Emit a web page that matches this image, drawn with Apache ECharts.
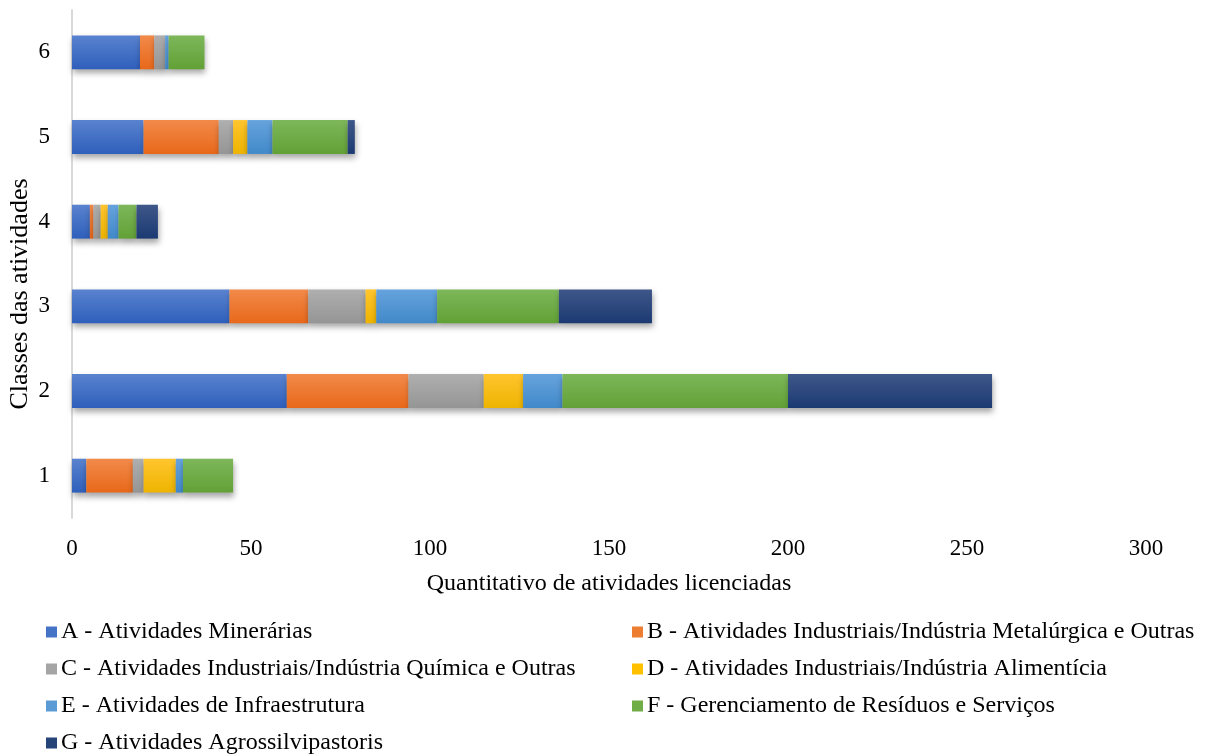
<!DOCTYPE html>
<html>
<head>
<meta charset="utf-8">
<script src="https://cdn.jsdelivr.net/npm/echarts@6/dist/echarts.min.js"></script>
<style>
  html, body { margin: 0; padding: 0; background: #fff; }
  #chart { width: 1210px; height: 756px; }
</style>
</head>
<body>
<div id="chart"></div>
<script>
// Activity classes (y axis, bottom to top)
const classes = ['1', '2', '3', '4', '5', '6'];

// Licensed activities per class, one array per activity group
const seriesNames = [
  'A - Atividades Minerárias',
  'B - Atividades Industriais/Indústria Metalúrgica e Outras',
  'C - Atividades Industriais/Indústria Química e Outras',
  'D - Atividades Industriais/Indústria Alimentícia',
  'E - Atividades de Infraestrutura',
  'F - Gerenciamento de Resíduos e Serviços',
  'G - Atividades Agrossilvipastoris'
];
const valuesA = [4, 60, 44, 5, 20, 19];
const valuesB = [13, 34, 22, 1, 21, 4];
const valuesC = [3, 21, 16, 2, 4, 3];
const valuesD = [9, 11, 3, 2, 4, 0];
const valuesE = [2, 11, 17, 3, 7, 1];
const valuesF = [14, 63, 34, 5, 21, 10];
const valuesG = [0, 57, 26, 6, 2, 0];

const xTicks = [0, 50, 100, 150, 200, 250, 300];
const xTitle = 'Quantitativo de atividades licenciadas';
const yTitle = 'Classes das atividades';

const palette = [
  ['#5a83cf', '#2e5fbb'],
  ['#f28a4a', '#e8681a'],
  ['#afafaf', '#959595'],
  ['#ffc52e', '#eeb400'],
  ['#66a3dd', '#4189c9'],
  ['#7db75a', '#62a136'],
  ['#3f5789', '#1b3a72']
];
const legendColors = ['#4472c4', '#ed7d31', '#a5a5a5', '#ffc000', '#5b9bd5', '#70ad47', '#264478'];

const allValues = [valuesA, valuesB, valuesC, valuesD, valuesE, valuesF, valuesG];
const font = '"Liberation Serif", "DejaVu Serif", serif';

const series = allValues.map((vals, i) => ({
  name: seriesNames[i],
  type: 'bar',
  stack: 'total',
  barWidth: '40%',
  data: vals,
  itemStyle: {
    color: new echarts.graphic.LinearGradient(0, 0, 0, 1, [
      { offset: 0, color: palette[i][0] },
      { offset: 1, color: palette[i][1] }
    ]),
    shadowColor: 'rgba(0,0,0,0.35)',
    shadowBlur: 6,
    shadowOffsetY: 4,
    shadowOffsetX: 1
  },
  emphasis: { disabled: true }
}));

const legendItem = (name, i) => ({
  name: name,
  itemStyle: { color: legendColors[i] }
});

const legendBase = {
  top: 620, orient: 'vertical', itemGap: 13, height: 150,
  itemWidth: 11, itemHeight: 11, icon: 'rect', padding: 0,
  textStyle: { color: '#000', fontFamily: font, fontSize: 24, lineHeight: 24, padding: [0, 0, 0, -1] }
};

const chart = echarts.init(document.getElementById('chart'), null, { renderer: 'canvas' });
chart.setOption({
  animation: false,
  backgroundColor: '#ffffff',
  grid: { left: 72, right: 64, top: 10, bottom: 238, containLabel: false, outerBoundsMode: 'none' },
  xAxis: {
    type: 'value',
    min: xTicks[0],
    max: xTicks[xTicks.length - 1],
    interval: 50,
    axisLine: { show: false },
    axisTick: { show: false },
    splitLine: { show: false },
    axisLabel: { color: '#000', fontFamily: font, fontSize: 23, margin: 19 },
    name: xTitle,
    nameLocation: 'middle',
    nameGap: 54,
    nameTextStyle: { color: '#000', fontFamily: font, fontSize: 24 }
  },
  yAxis: {
    type: 'category',
    data: classes,
    axisLine: { show: true, lineStyle: { color: '#d9d9d9', width: 2 } },
    axisTick: { show: false },
    axisLabel: { color: '#000', fontFamily: font, fontSize: 23, margin: 22 }
  },
  graphic: [{
    type: 'text',
    x: 20,
    y: 294,
    rotation: Math.PI / 2,
    style: {
      text: yTitle,
      fill: '#000',
      font: '26px ' + font,
      align: 'center',
      verticalAlign: 'middle'
    }
  }],
  legend: [
    Object.assign({}, legendBase, {
      left: 46,
      data: [0, 2, 4, 6].map(i => legendItem(seriesNames[i], i))
    }),
    Object.assign({}, legendBase, {
      left: 632,
      data: [1, 3, 5].map(i => legendItem(seriesNames[i], i))
    })
  ],
  series: series
});
</script>
</body>
</html>
